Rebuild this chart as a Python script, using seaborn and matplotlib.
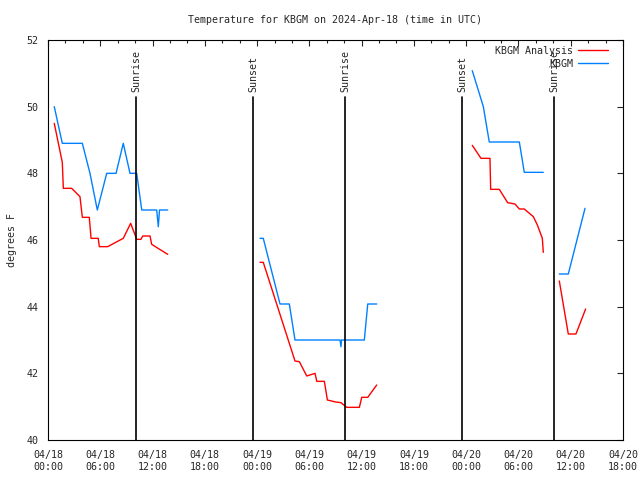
import numpy as np
import pandas as pd
import matplotlib
matplotlib.use("Agg")
import matplotlib.pyplot as plt
import seaborn as sns

sns.set_style("white")
plt.rcParams['font.family'] = ['DejaVu Sans Mono']

# hours since 04/18 00:00 UTC, temps in F
obs_seg = [1]*15 + [2]*11 + [3]*6 + [4]*3
obs_hours = [0.72, 1.64, 3.94, 4.82, 5.66, 6.74, 7.81, 8.64, 9.41, 10.18, 10.76, 12.48, 12.66, 12.80, 13.74,
             24.33, 24.71, 26.63, 27.70, 28.35, 33.52, 33.63, 33.69, 36.31, 36.70, 37.73,
             48.70, 49.97, 50.65, 54.10, 54.67, 56.85,
             58.69, 59.72, 61.64]
obs_temps = [50.0, 48.9, 48.9, 48.0, 46.9, 48.0, 48.0, 48.9, 48.0, 48.0, 46.9, 46.9, 46.4, 46.9, 46.9,
             46.05, 46.05, 44.08, 44.08, 43.0, 43.0, 42.8, 43.0, 43.0, 44.08, 44.08,
             51.08, 50.0, 48.94, 48.94, 48.03, 48.03,
             44.98, 44.98, 46.95]

ana_seg = [1]*19 + [2]*16 + [3]*13 + [4]*4
ana_hours = [0.72, 1.64, 1.76, 2.72, 3.67, 3.94, 4.74, 4.94, 5.77, 5.89, 6.85, 8.64, 9.49, 10.18, 10.67, 10.87, 11.71, 11.90, 13.74,
             24.33, 24.71, 28.35, 28.85, 29.70, 30.65, 30.85, 31.72, 32.07, 33.03, 33.63, 34.29, 35.74, 36.01, 36.70, 37.73,
             48.70, 49.70, 50.73, 50.81, 51.80, 52.76, 53.60, 54.10, 54.67, 55.71, 56.17, 56.74, 56.85,
             58.69, 59.72, 60.60, 61.71]
ana_temps = [49.5, 48.33, 47.55, 47.55, 47.3, 46.68, 46.68, 46.05, 46.05, 45.8, 45.8, 46.05, 46.5, 46.02, 46.02, 46.12, 46.12, 45.87, 45.57,
             45.33, 45.33, 42.37, 42.35, 41.92, 42.0, 41.76, 41.76, 41.2, 41.14, 41.12, 40.98, 40.98, 41.28, 41.28, 41.65,
             48.84, 48.45, 48.45, 47.52, 47.52, 47.12, 47.08, 46.93, 46.93, 46.7, 46.45, 46.05, 45.63,
             44.77, 43.18, 43.18, 43.93]

sun_hours = [10.1, 23.53, 34.09, 47.52, 58.08]
sun_labels = ["Sunrise", "Sunset", "Sunrise", "Sunset", "Sunrise"]

tick_hours = list(range(0, 67, 6))
tick_labels = ["04/18\n00:00", "04/18\n06:00", "04/18\n12:00", "04/18\n18:00",
               "04/19\n00:00", "04/19\n06:00", "04/19\n12:00", "04/19\n18:00",
               "04/20\n00:00", "04/20\n06:00", "04/20\n12:00", "04/20\n18:00"]

df = pd.concat([
    pd.DataFrame({'hour': ana_hours, 'temp': ana_temps, 'seg': ana_seg, 'series': 'KBGM Analysis'}),
    pd.DataFrame({'hour': obs_hours, 'temp': obs_temps, 'seg': obs_seg, 'series': 'KBGM'}),
])

fig = plt.figure(figsize=(6.4, 4.8), dpi=100)
ax = fig.add_axes([48/640, 40/480, 575/640, 400/480])

sns.lineplot(data=df, x='hour', y='temp', hue='series', units='seg', estimator=None,
             palette={'KBGM Analysis': '#ff0000', 'KBGM': '#0080ff'}, lw=1.0, ax=ax)

for h, lab in zip(sun_hours, sun_labels):
    ax.plot([h, h], [40, 50.3], color='black', lw=1.2)
    ax.text(h, 50.45, lab, rotation=90, ha='center', va='bottom', fontsize=7.2)

ax.set_xlim(0, 66)
ax.set_ylim(40, 52)
ax.set_xticks(tick_hours)
ax.set_xticklabels(tick_labels, fontsize=7.2, linespacing=1.3)
ax.set_xticks(np.arange(0, 67, 2), minor=True)
ax.set_yticks(range(40, 53, 2))
ax.tick_params(axis='y', labelsize=7.2, pad=7)
ax.tick_params(axis='x', pad=7)
ax.tick_params(which='both', direction='in', top=True, right=True, length=4, width=0.8)
ax.tick_params(which='minor', length=2.5)
ax.set_xlabel('')
ax.set_ylabel('degrees F', fontsize=7.2, labelpad=7)
ax.set_title('Temperature for KBGM on 2024-Apr-18 (time in UTC)', fontsize=7.2, pad=12)
for s in ax.spines.values():
    s.set_color('black')
    s.set_linewidth(0.8)

ax.legend(loc='upper right', frameon=False, markerfirst=False, fontsize=7.2,
          handlelength=3.0, borderaxespad=0.2, labelspacing=0.3, handletextpad=0.5,
          bbox_to_anchor=(0.985, 1.0))

fig.savefig('out.png', dpi=100)
